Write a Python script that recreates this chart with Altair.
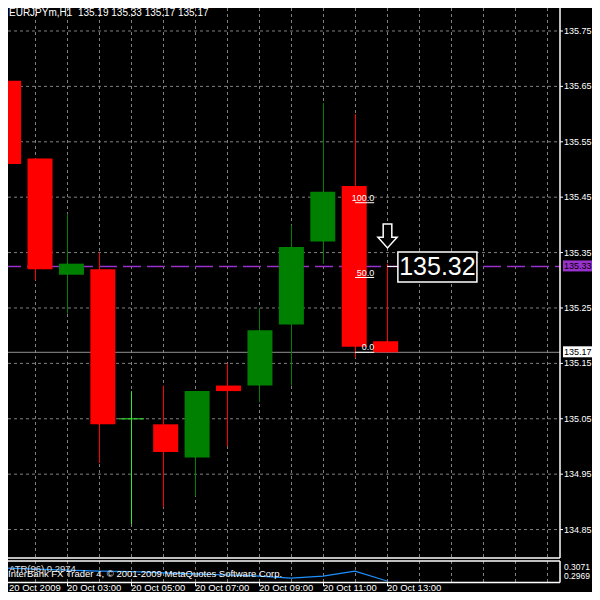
import altair as alt
import pandas as pd

# ---------------- data ----------------
HOURS = list(range(1, 14))
OPEN  = [135.66, 135.52, 135.31, 135.32, 135.05, 135.04, 134.98, 135.11, 135.11, 135.22, 135.37, 135.47, 135.19]
HIGH  = [135.67, 135.52, 135.42, 135.35, 135.10, 135.11, 135.10, 135.15, 135.25, 135.40, 135.62, 135.60, 135.33]
LOW   = [135.38, 135.30, 135.24, 134.97, 134.86, 134.89, 134.91, 135.00, 135.08, 135.11, 135.33, 135.16, 135.17]
CLOSE = [135.51, 135.32, 135.33, 135.04, 135.05, 134.99, 135.10, 135.10, 135.21, 135.36, 135.46, 135.18, 135.17]
ATR   = [0.3037, 0.3032, 0.3027, 0.3022, 0.3020, 0.3013, 0.3008, 0.3003, 0.2998, 0.2988, 0.2998, 0.3022, 0.2974]

PRICE_TICKS = [135.75, 135.65, 135.55, 135.45, 135.35, 135.25, 135.15, 135.05, 134.95, 134.85]
GRID_HOURS = list(range(2, 19))
TIME_TICK_HOURS = [1, 3, 5, 7, 9, 11, 13]
TIME_LABELS = ["20 Oct 2009", "20 Oct 03:00", "20 Oct 05:00", "20 Oct 07:00",
               "20 Oct 09:00", "20 Oct 11:00", "20 Oct 13:00"]

FIB_PRICES = [135.44, 135.305, 135.17]
FIB_LABELS = ["100.0", "50.0", "0.0"]
FIB_START_HOUR, FIB_END_HOUR = 12.0, 12.6

BID = 135.17
BID_LABEL = "135.17"
ASK_LINE = 135.325
ASK_LABEL = "135.33"
ARROW_HOUR, ARROW_PRICE = 13, 135.38
PRICE_LABEL = "135.32"
PRICE_LABEL_LINE = 135.325
PRICE_LABEL_BOX_HOURS = [13.34, 15.81]
PRICE_LABEL_BOX_PRICES = [135.297, 135.351]
ATR_MAX, ATR_MIN = 0.3071, 0.2969
ATR_MAX_LABEL, ATR_MIN_LABEL = "0.3071", "0.2969"

TITLE = "EURJPYm,H1\u00a0 135.19 135.33 135.17 135.17"
ATR_TITLE = "ATR(96) 0.2974"
COPYRIGHT = "InterBank FX Trader 4, \u00a9 2001-2009 MetaQuotes Software Corp."

# ---------------- styling ----------------
FONT = "Liberation Sans"
RED, GREEN, LIME = "#ff0000", "#008000", "#32e632"
GRID = "#808080"
PURPLE = "#9932cc"
BLUE = "#1e90ff"

W, H = 584, 584
PLOT_R = 552          # right frame of panels (svg px)
MAIN_B = 550          # bottom frame of main panel
IND_T, IND_B = 553, 574.5

X = alt.Scale(domain=[1.15625, 18.40625], range=[0, PLOT_R], nice=False, zero=False)
Y = alt.Scale(domain=[134.8005, 135.7915], range=[549, 0], nice=False, zero=False)
YA = alt.Scale(domain=[ATR_MIN, ATR_MAX], range=[574, 553], nice=False, zero=False)

candles = pd.DataFrame({"h": HOURS, "o": OPEN, "hi": HIGH, "lo": LOW, "c": CLOSE, "atr": ATR})
candles["dir"] = ["up" if c > o else ("down" if c < o else "doji") for o, c in zip(OPEN, CLOSE)]
COL = alt.Scale(domain=["up", "down", "doji"], range=[GREEN, RED, LIME])

px = lambda h: alt.X(h, scale=X, axis=None)
py = lambda p: alt.Y(p, scale=Y, axis=None)

layers = []

# grid
ticks_df = pd.DataFrame({"p": PRICE_TICKS, "lab": [f"{p:.2f}" for p in PRICE_TICKS]})
layers.append(alt.Chart(ticks_df).mark_rule(color=GRID, strokeDash=[3, 3], strokeWidth=1)
              .encode(y=py("p:Q"), x=alt.value(0), x2=alt.value(PLOT_R)))
vg = pd.DataFrame({"h": GRID_HOURS})
layers.append(alt.Chart(vg).mark_rule(color=GRID, strokeDash=[3, 3], strokeWidth=1, xOffset=0.5)
              .encode(x=px("h:Q"), y=alt.value(0), y2=alt.value(MAIN_B)))
layers.append(alt.Chart(vg).mark_rule(color=GRID, strokeDash=[3, 3], strokeWidth=1, xOffset=0.5)
              .encode(x=px("h:Q"), y=alt.value(IND_T), y2=alt.value(IND_B)))

# bid / ask lines
layers.append(alt.Chart(pd.DataFrame({"p": [BID]})).mark_rule(color="#909090", strokeWidth=1)
              .encode(y=py("p:Q"), x=alt.value(0), x2=alt.value(PLOT_R)))
layers.append(alt.Chart(pd.DataFrame({"p": [ASK_LINE]}))
              .mark_rule(color=PURPLE, strokeWidth=1.5, strokeDash=[18, 6], strokeDashOffset=5)
              .encode(y=py("p:Q"), x=alt.value(0), x2=alt.value(PLOT_R)))

# candles
layers.append(alt.Chart(candles).mark_rule(strokeWidth=1, xOffset=0.5)
              .encode(x=px("h:Q"), y=py("lo:Q"), y2="hi:Q",
                      color=alt.Color("dir:N", scale=COL, legend=None)))
layers.append(alt.Chart(candles).transform_filter("datum.dir != 'doji'")
              .mark_bar(size=25, xOffset=0.5)
              .encode(x=px("h:Q"), y=py("o:Q"), y2="c:Q",
                      color=alt.Color("dir:N", scale=COL, legend=None)))
layers.append(alt.Chart(candles).transform_filter("datum.dir == 'doji'")
              .mark_tick(orient="horizontal", size=25, thickness=1.5, xOffset=0.5)
              .encode(x=px("h:Q"), y=py("o:Q"),
                      color=alt.Color("dir:N", scale=COL, legend=None)))

# fibonacci levels
fib = pd.DataFrame({"p": FIB_PRICES, "lab": FIB_LABELS, "h0": FIB_START_HOUR, "h1": FIB_END_HOUR})
layers.append(alt.Chart(fib).mark_rule(color="white", strokeWidth=1)
              .encode(x=px("h0:Q"), x2="h1:Q", y=py("p:Q")))
layers.append(alt.Chart(fib).mark_text(color="white", font=FONT, fontSize=9, align="right",
                                       baseline="alphabetic", dy=-2)
              .encode(x=px("h1:Q"), y=py("p:Q"), text="lab:N"))

# arrow
ARROW_PATH = "M-0.36,-1 L0.36,-1 L0.36,0.1 L0.8,0.1 L0,1 L-0.8,0.1 L-0.36,0.1 Z"
layers.append(alt.Chart(pd.DataFrame({"h": [ARROW_HOUR], "p": [ARROW_PRICE]}))
              .mark_point(shape=ARROW_PATH, size=576, filled=True, fill="black", stroke="white",
                          strokeWidth=1.5, opacity=1, xOffset=0.5)
              .encode(x=px("h:Q"), y=py("p:Q")))

# price label
lab = pd.DataFrame({"h0": [PRICE_LABEL_BOX_HOURS[0]], "h1": [PRICE_LABEL_BOX_HOURS[1]],
                    "p0": [PRICE_LABEL_BOX_PRICES[0]], "p1": [PRICE_LABEL_BOX_PRICES[1]],
                    "hm": [sum(PRICE_LABEL_BOX_HOURS) / 2], "pl": [PRICE_LABEL_LINE],
                    "ha": [ARROW_HOUR], "t": [PRICE_LABEL]})
layers.append(alt.Chart(lab).mark_rule(color="white", strokeWidth=1)
              .encode(x=px("ha:Q"), x2="h0:Q", y=py("pl:Q")))
layers.append(alt.Chart(lab).mark_rect(fill="black", stroke="white", strokeWidth=1.5)
              .encode(x=px("h0:Q"), x2="h1:Q", y=py("p0:Q"), y2="p1:Q"))
layers.append(alt.Chart(lab).mark_text(color="white", font=FONT, fontSize=25, align="center",
                                       baseline="middle", dy=1)
              .encode(x=px("hm:Q"), y=py("pl:Q"), text="t:N"))

# ATR line
layers.append(alt.Chart(candles).mark_line(color=BLUE, strokeWidth=1.2)
              .encode(x=px("h:Q"), y=alt.Y("atr:Q", scale=YA, axis=None)))

# frames
frame = pd.DataFrame({"k": [0]})
layers.append(alt.Chart(frame).mark_rule(color="white", strokeWidth=1.5)
              .encode(x=alt.value(PLOT_R), y=alt.value(0), y2=alt.value(MAIN_B)))
layers.append(alt.Chart(frame).mark_rule(color="white", strokeWidth=1.5)
              .encode(y=alt.value(MAIN_B), x=alt.value(0), x2=alt.value(PLOT_R)))
layers.append(alt.Chart(frame).mark_rule(color="white", strokeWidth=1.5)
              .encode(y=alt.value(IND_T), x=alt.value(0), x2=alt.value(PLOT_R)))
layers.append(alt.Chart(frame).mark_rule(color="white", strokeWidth=1.5)
              .encode(y=alt.value(IND_B), x=alt.value(0), x2=alt.value(PLOT_R)))
layers.append(alt.Chart(frame).mark_rule(color="white", strokeWidth=1.5)
              .encode(x=alt.value(PLOT_R), y=alt.value(IND_T), y2=alt.value(IND_B)))

# right price axis
layers.append(alt.Chart(ticks_df).mark_rule(color="white", strokeWidth=1)
              .encode(y=py("p:Q"), x=alt.value(PLOT_R), x2=alt.value(PLOT_R + 3)))
layers.append(alt.Chart(ticks_df).mark_text(color="white", font=FONT, fontSize=9, align="left",
                                            baseline="middle")
              .encode(y=py("p:Q"), x=alt.value(PLOT_R + 4), text="lab:N"))

# ask / bid boxes on the axis
boxes = pd.DataFrame({"p": [ASK_LINE, BID], "lab": [ASK_LABEL, BID_LABEL], "kind": ["ask", "bid"]})
BOXCOL = alt.Scale(domain=["ask", "bid"], range=[PURPLE, "white"])
layers.append(alt.Chart(boxes).mark_rect(yOffset=-6, y2Offset=5)
              .encode(y=py("p:Q"), y2="p:Q", x=alt.value(PLOT_R + 3), x2=alt.value(W),
                      color=alt.Color("kind:N", scale=BOXCOL, legend=None)))
layers.append(alt.Chart(boxes).mark_text(color="black", font=FONT, fontSize=9, align="left",
                                         baseline="middle")
              .encode(y=py("p:Q"), x=alt.value(PLOT_R + 4), text="lab:N"))

# indicator scale labels
atr_lab = pd.DataFrame({"t": [ATR_MAX_LABEL, ATR_MIN_LABEL], "row": [0, 1]})
layers.append(alt.Chart(atr_lab).transform_filter("datum.row == 0")
              .mark_text(color="white", font=FONT, fontSize=8.5, align="left", baseline="middle")
              .encode(x=alt.value(PLOT_R + 4), y=alt.value(558.5), text="t:N"))
layers.append(alt.Chart(atr_lab).transform_filter("datum.row == 1")
              .mark_text(color="white", font=FONT, fontSize=8.5, align="left", baseline="middle")
              .encode(x=alt.value(PLOT_R + 4), y=alt.value(567.5), text="t:N"))

# time axis
tdf = pd.DataFrame({"h": TIME_TICK_HOURS, "lab": TIME_LABELS})
layers.append(alt.Chart(tdf).mark_rule(color="white", strokeWidth=1, xOffset=0.5)
              .encode(x=px("h:Q"), y=alt.value(IND_B), y2=alt.value(578)))
layers.append(alt.Chart(tdf).transform_filter("datum.h > 1")
              .mark_text(color="white", font=FONT, fontSize=9.5, align="left", baseline="alphabetic")
              .encode(x=px("h:Q"), y=alt.value(583), text="lab:N"))
layers.append(alt.Chart(tdf).transform_filter("datum.h == 1")
              .mark_text(color="white", font=FONT, fontSize=9.5, align="left", baseline="alphabetic",
                         dx=6)
              .encode(x=px("h:Q"), y=alt.value(583), text="lab:N"))

# texts
layers.append(alt.Chart(pd.DataFrame({"t": [TITLE]}))
              .mark_text(color="white", font=FONT, fontSize=10, align="left", baseline="alphabetic")
              .encode(x=alt.value(1), y=alt.value(8), text="t:N"))
layers.append(alt.Chart(pd.DataFrame({"t": [ATR_TITLE]}))
              .mark_text(color="#e0e0e0", font=FONT, fontSize=9.5, align="left", baseline="alphabetic")
              .encode(x=alt.value(1), y=alt.value(564), text="t:N"))
layers.append(alt.Chart(pd.DataFrame({"t": [COPYRIGHT]}))
              .mark_text(color="white", font=FONT, fontSize=9.5, align="left", baseline="alphabetic")
              .encode(x=alt.value(0), y=alt.value(569), text="t:N"))

chart = (alt.layer(*layers)
         .resolve_scale(x="independent", y="independent", color="independent")
         .properties(width=W, height=H, padding=0, autosize=alt.AutoSizeParams(type="none"),
                     background="black")
         .configure_view(stroke=None))

chart.save("out.html", embed_options={"renderer": "svg", "actions": False})
